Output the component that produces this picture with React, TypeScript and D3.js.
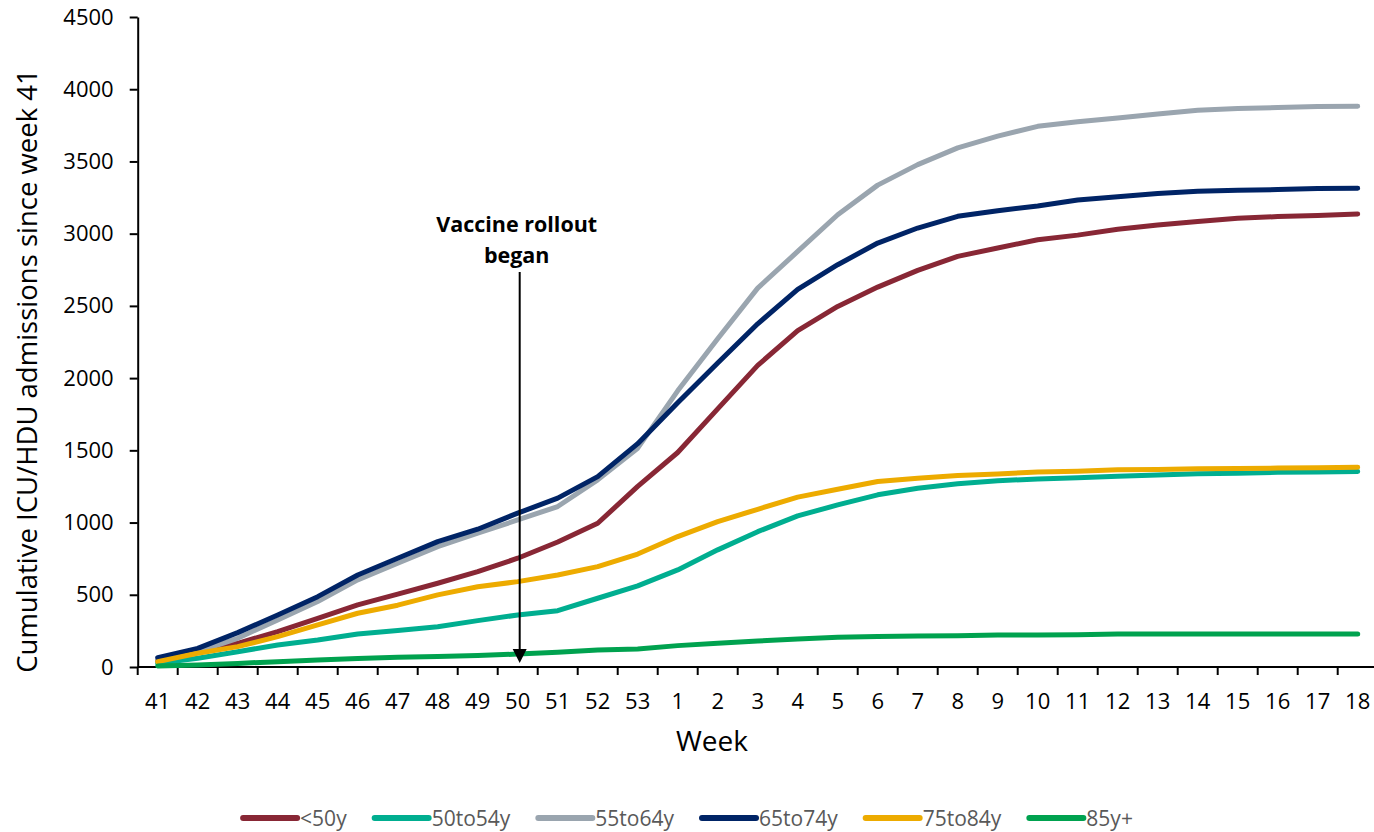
import React, { useEffect, useRef } from "react";
import * as d3 from "d3";

const weeks = [
  "41", "42", "43", "44", "45", "46", "47", "48", "49", "50", "51", "52", "53",
  "1", "2", "3", "4", "5", "6", "7", "8", "9", "10", "11", "12", "13", "14", "15", "16", "17", "18",
];

const seriesNames = ["<50y", "50to54y", "55to64y", "65to74y", "75to84y", "85y+"];

const under50 = [42, 106, 164, 245, 337, 430, 505, 580, 660, 753, 865, 995, 1250, 1485, 1787, 2088, 2328, 2496, 2630, 2746, 2843, 2901, 2958, 2990, 3030, 3060, 3085, 3106, 3118, 3125, 3136];
const age50to54 = [25, 60, 106, 152, 187, 229, 252, 279, 321, 360, 390, 476, 562, 672, 811, 937, 1046, 1122, 1192, 1238, 1268, 1289, 1302, 1310, 1320, 1330, 1338, 1342, 1348, 1350, 1353];
const age55to64 = [48, 106, 199, 326, 453, 603, 718, 833, 926, 1018, 1111, 1296, 1515, 1912, 2272, 2623, 2877, 3131, 3336, 3478, 3594, 3675, 3743, 3775, 3801, 3829, 3854, 3866, 3873, 3880, 3882];
const age65to74 = [65, 129, 238, 360, 487, 637, 753, 868, 954, 1065, 1169, 1318, 1546, 1829, 2104, 2376, 2615, 2785, 2935, 3039, 3120, 3159, 3192, 3233, 3256, 3278, 3293, 3300, 3305, 3312, 3314];
const age75to84 = [37, 95, 141, 210, 291, 372, 428, 499, 556, 591, 637, 695, 782, 903, 1007, 1092, 1176, 1231, 1284, 1307, 1326, 1337, 1350, 1355, 1365, 1368, 1372, 1374, 1377, 1380, 1383];
const age85plus = [7, 14, 25, 37, 48, 58, 67, 72, 79, 90, 102, 118, 125, 148, 164, 180, 194, 206, 212, 215, 217, 222, 222, 224, 228, 228, 228, 229, 229, 229, 229];

const seriesValues = [under50, age50to54, age55to64, age65to74, age75to84, age85plus];
const seriesColors = ["#882735", "#00AE90", "#9AA5AF", "#002466", "#EDAB00", "#00A24F"];

const yTicks = [0, 500, 1000, 1500, 2000, 2500, 3000, 3500, 4000, 4500];

const yTitle = "Cumulative ICU/HDU admissions since week 41";
const xTitle = "Week";
const annotationLines = ["Vaccine rollout", "began"];
const annotationWeek = "50";

const FONT = "'Open Sans', 'DejaVu Sans', sans-serif";

export default function App() {
  const ref = useRef<SVGSVGElement>(null);

  useEffect(() => {
    const svg = d3.select(ref.current);
    svg.selectAll("*").remove();

    const x = d3.scaleBand<string>().domain(weeks).range([137.7, 1377.7]).paddingInner(0).paddingOuter(0);
    const y = d3.scaleLinear().domain([0, 4500]).range([667, 17]);
    const xc = (w: string) => (x(w) as number) + x.bandwidth() / 2;

    // Y axis
    const yAxis = d3
      .axisLeft(y)
      .tickValues(yTicks)
      .tickFormat(d3.format("d") as any)
      .tickSizeInner(8)
      .tickSizeOuter(0)
      .tickPadding(16);
    const gy = svg.append("g").attr("transform", "translate(137.7,0)").call(yAxis as any);
    gy.select(".domain").attr("stroke", "#000").attr("stroke-width", 2);
    gy.selectAll(".tick line").attr("stroke", "#000").attr("stroke-width", 2);
    gy.selectAll(".tick text")
      .attr("font-family", FONT)
      .attr("font-size", 22)
      .attr("fill", "#000");
    gy.attr("font-family", FONT);

    // X axis (ticks between categories)
    const gx = svg.append("g");
    const x0 = x.range()[0];
    const x1 = x.range()[1];
    gx.append("line")
      .attr("x1", x0).attr("x2", x1)
      .attr("y1", y(0)).attr("y2", y(0))
      .attr("stroke", "#000").attr("stroke-width", 2);
    const edges = weeks.map((w) => x(w) as number).concat([x1]);
    gx.selectAll("line.xt")
      .data(edges)
      .enter()
      .append("line")
      .attr("class", "xt")
      .attr("x1", (d) => d).attr("x2", (d) => d)
      .attr("y1", y(0)).attr("y2", y(0) + 8)
      .attr("stroke", "#000").attr("stroke-width", 2);
    gx.selectAll("text")
      .data(weeks)
      .enter()
      .append("text")
      .attr("x", (d) => xc(d))
      .attr("y", 709)
      .attr("text-anchor", "middle")
      .attr("font-family", FONT)
      .attr("font-size", 22)
      .attr("fill", "#000")
      .text((d) => d);

    // Titles
    svg.append("text")
      .attr("transform", `translate(37,371) rotate(-90)`)
      .attr("text-anchor", "middle")
      .attr("font-family", FONT)
      .attr("font-size", 27.5)
      .attr("fill", "#000")
      .text(yTitle);
    svg.append("text")
      .attr("x", 712)
      .attr("y", 751)
      .attr("text-anchor", "middle")
      .attr("font-family", FONT)
      .attr("font-size", 28)
      .attr("fill", "#000")
      .text(xTitle);

    // Lines
    const line = d3.line<number>()
      .x((_, i) => xc(weeks[i]))
      .y((d) => y(d))
      .curve(d3.curveLinear);
    seriesValues.forEach((vals, k) => {
      svg.append("path")
        .attr("d", line(vals) as string)
        .attr("fill", "none")
        .attr("stroke", seriesColors[k])
        .attr("stroke-width", 5)
        .attr("stroke-linecap", "round")
        .attr("stroke-linejoin", "round");
    });

    // Annotation
    const ax = xc(annotationWeek) + 2;
    annotationLines.forEach((t, i) => {
      svg.append("text")
        .attr("x", ax - 3)
        .attr("y", 232 + i * 31)
        .attr("text-anchor", "middle")
        .attr("font-family", FONT)
        .attr("font-weight", "bold")
        .attr("font-size", 21.5)
        .attr("fill", "#000")
        .text(t);
    });
    const tipY = y(0) - 4;
    svg.append("line")
      .attr("x1", ax).attr("x2", ax)
      .attr("y1", 272).attr("y2", tipY - 12)
      .attr("stroke", "#000").attr("stroke-width", 2);
    svg.append("path")
      .attr("d", `M${ax - 7},${tipY - 14} L${ax + 7},${tipY - 14} L${ax},${tipY} Z`)
      .attr("fill", "#000");

    // Legend
    const lg = svg.append("g");
    const lineLen = 54;
    const items = seriesNames.map((name, k) => {
      const g = lg.append("g");
      g.append("line")
        .attr("x1", 0).attr("x2", lineLen)
        .attr("y1", 818).attr("y2", 818)
        .attr("stroke", seriesColors[k])
        .attr("stroke-width", 6)
        .attr("stroke-linecap", "round");
      const t = g.append("text")
        .attr("x", lineLen + 3)
        .attr("y", 826)
        .attr("font-family", FONT)
        .attr("font-size", 21)
        .attr("fill", "#595959")
        .text(name);
      const tw = (t.node() as SVGTextElement).getComputedTextLength();
      return { g, w: lineLen + 3 + tw };
    });
    const gap = 28;
    const total = items.reduce((s, it) => s + it.w, 0) + gap * (items.length - 1);
    let cx = 688 - total / 2;
    items.forEach((it) => {
      it.g.attr("transform", `translate(${cx},0)`);
      cx += it.w + gap;
    });
  }, []);

  return (
    <svg
      ref={ref}
      width={1374}
      height={832}
      style={{ position: "absolute", left: 0, top: 0, background: "#fff" }}
    />
  );
}
